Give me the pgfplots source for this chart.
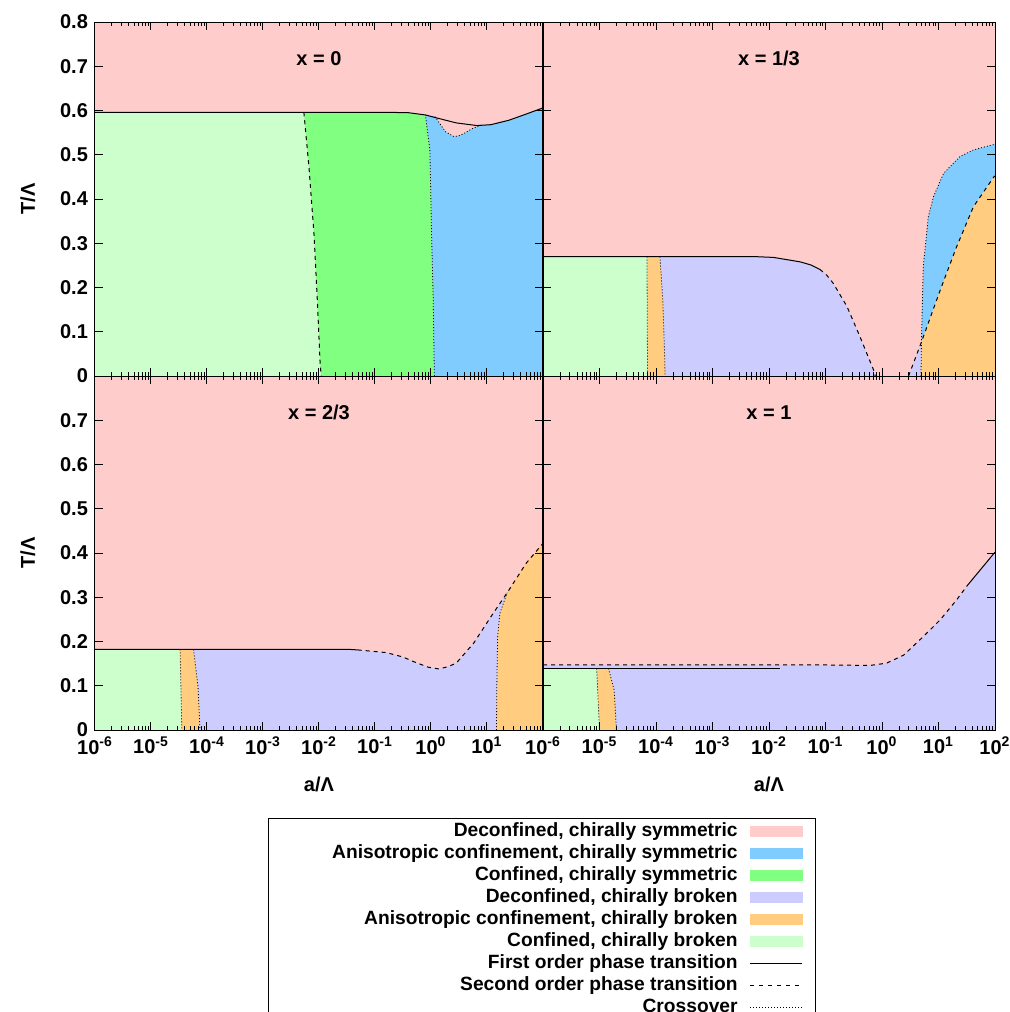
\documentclass[border=0pt]{standalone}
\usepackage{fontspec}
\setmainfont{Liberation Sans}
\usepackage{pgfplots}
\pgfplotsset{compat=1.18}

\definecolor{dcs}{RGB}{255,204,204}
\definecolor{acs}{RGB}{128,204,255}
\definecolor{ccs}{RGB}{128,255,128}
\definecolor{dcb}{RGB}{204,204,255}
\definecolor{acb}{RGB}{255,204,128}
\definecolor{ccb}{RGB}{204,255,204}

\pgfplotsset{
  mypanel/.style={
    scale only axis, width=224pt, height=177pt, anchor=south west,
    xmin=1e-6, xmax=1e2, ymin=0, ymax=0.8,
    xtick={1e-6,1e-5,1e-4,1e-3,1e-2,1e-1,1e0,1e1,1e2},
    minor xtick={2e-6,3e-6,4e-6,5e-6,6e-6,7e-6,8e-6,9e-6,
                 2e-5,3e-5,4e-5,5e-5,6e-5,7e-5,8e-5,9e-5,
                 2e-4,3e-4,4e-4,5e-4,6e-4,7e-4,8e-4,9e-4,
                 2e-3,3e-3,4e-3,5e-3,6e-3,7e-3,8e-3,9e-3,
                 2e-2,3e-2,4e-2,5e-2,6e-2,7e-2,8e-2,9e-2,
                 0.2,0.3,0.4,0.5,0.6,0.7,0.8,0.9,
                 2,3,4,5,6,7,8,9,20,30,40,50,60,70,80,90},
    ytick={0,0.1,0.2,0.3,0.4,0.5,0.6,0.7,0.8},
    xticklabels=\empty, yticklabels=\empty,
    tick align=inside, major tick length=4pt, minor tick length=2pt,
    every tick/.style={black, line width=0.5pt},
    axis line style={line width=0.5pt},
    axis on top,
    axis background/.style={fill=dcs},
    xlabel style={at={(axis description cs:0.5,-0.155)}, anchor=center},
    ylabel style={at={(axis description cs:-0.15,0.5)}, anchor=center},
    tick label style={font=\bfseries},
  },
  region/.style={draw=none, fill=#1},
  first/.style={black, line width=0.5pt},
  second/.style={black, line width=0.5pt, dash pattern=on 2pt off 2pt},
  cross/.style={black, line width=0.4pt, dash pattern=on 0.5pt off 1pt},
}

\begin{document}
\bfseries
\begin{tikzpicture}[font=\bfseries]

% x = 0
\begin{semilogxaxis}[mypanel, at={(47.5pt,-188pt)}, ylabel={T/Λ},
  yticklabels={0,0.1,0.2,0.3,0.4,0.5,0.6,0.7,0.8}]
\addplot[region=ccb] coordinates {(1e-6,0) (1e-6,0.596) (5.37e-3,0.596) (6.61e-3,0.473) (8.13e-3,0.322) (9.33e-3,0.172) (1.047e-2,0.029) (1.096e-2,0)} -- cycle;
\addplot[region=ccs] coordinates {(1.096e-2,0) (1.047e-2,0.029) (9.33e-3,0.172) (8.13e-3,0.322) (6.61e-3,0.473) (5.37e-3,0.596) (0.1585,0.596) (0.398,0.595) (0.794,0.590) (0.955,0.511) (1.023,0.322) (1.096,0.172) (1.148,0)} -- cycle;
\addplot[region=acs] coordinates {(1.148,0) (1.096,0.172) (1.023,0.322) (0.955,0.511) (0.794,0.590) (1.175,0.586) (1.445,0.570) (1.820,0.552) (2.570,0.541) (3.162,0.543) (3.981,0.549) (5.623,0.560) (7.762,0.567) (11.75,0.568) (24.55,0.578) (50.12,0.592) (100,0.606) (100,0)} -- cycle;
\addplot[first] coordinates {(1e-6,0.596) (0.1585,0.596) (0.398,0.595) (0.794,0.590) (1.380,0.582) (2.818,0.572) (6.607,0.566) (11.75,0.568) (24.55,0.578) (50.12,0.592) (100,0.606)};
\addplot[second] coordinates {(5.37e-3,0.596) (6.61e-3,0.473) (8.13e-3,0.322) (9.33e-3,0.172) (1.047e-2,0.029) (1.096e-2,0)};
\addplot[cross] coordinates {(1.148,0) (1.096,0.172) (1.023,0.322) (0.955,0.511) (0.794,0.590)};
\addplot[cross] coordinates {(1.175,0.586) (1.445,0.570) (1.820,0.552) (2.570,0.541) (3.162,0.543) (3.981,0.549) (5.623,0.560) (7.762,0.567)};
\node at (rel axis cs:0.5,0.897) {x = 0};
\end{semilogxaxis}

% x = 1/3
\begin{semilogxaxis}[mypanel, at={(271.5pt,-188pt)}, width=226pt]
\addplot[region=ccb] coordinates {(1e-6,0) (1e-6,0.270) (6.92e-5,0.270) (7.08e-5,0)} -- cycle;
\addplot[region=acb] coordinates {(7.08e-5,0) (6.92e-5,0.270) (1.175e-4,0.270) (1.318e-4,0.172) (1.413e-4,0.059) (1.445e-4,0)} -- cycle;
\addplot[region=dcb] coordinates {(1.445e-4,0) (1.413e-4,0.059) (1.318e-4,0.172) (1.175e-4,0.270) (5.25e-3,0.270) (1.202e-2,0.268) (3.548e-2,0.258) (5.5e-2,0.251) (7.94e-2,0.241) (0.105,0.228) (0.138,0.209) (0.240,0.157) (0.407,0.089) (0.708,0.014) (0.759,0)} -- cycle;
\addplot[region=dcb] coordinates {(2.951,0) (4.898,0.074) (4.898,0)} -- cycle;
\addplot[region=acs] coordinates {(4.898,0.074) (5.012,0.089) (5.370,0.247) (6.607,0.360) (8.128,0.405) (12.30,0.458) (23.99,0.496) (41.69,0.511) (100,0.524) (100,0.452) (95.5,0.450) (41.69,0.383) (20.89,0.292) (10.72,0.194)} -- cycle;
\addplot[region=acb] coordinates {(4.898,0) (4.898,0.074) (10.72,0.194) (20.89,0.292) (41.69,0.383) (95.5,0.450) (100,0.452) (100,0)} -- cycle;
\addplot[first] coordinates {(1e-6,0.270) (5.25e-3,0.270) (1.202e-2,0.268) (3.548e-2,0.258) (5.5e-2,0.251) (7.94e-2,0.241)};
\addplot[second] coordinates {(7.94e-2,0.241) (0.105,0.228) (0.138,0.209) (0.240,0.157) (0.407,0.089) (0.708,0.014) (0.759,0)};
\addplot[second] coordinates {(2.951,0) (4.898,0.074) (10.72,0.194) (20.89,0.292) (41.69,0.383) (95.5,0.450) (100,0.452)};
\addplot[cross] coordinates {(6.92e-5,0.270) (7.08e-5,0)};
\addplot[cross] coordinates {(1.175e-4,0.270) (1.318e-4,0.172) (1.413e-4,0.059) (1.445e-4,0)};
\addplot[cross] coordinates {(4.898,0) (5.012,0.089) (5.370,0.247) (6.607,0.360) (8.128,0.405) (12.30,0.458) (23.99,0.496) (41.69,0.511) (100,0.524)};
\node at (rel axis cs:0.5,0.897) {x = 1/3};
\end{semilogxaxis}

% x = 2/3
\begin{semilogxaxis}[mypanel, at={(47.5pt,-365pt)}, ylabel={T/Λ}, xlabel={a/Λ},
  yticklabels={0,0.1,0.2,0.3,0.4,0.5,0.6,0.7,{}},
  xticklabels={10\textsuperscript{-6},10\textsuperscript{-5},10\textsuperscript{-4},10\textsuperscript{-3},10\textsuperscript{-2},10\textsuperscript{-1},10\textsuperscript{0},10\textsuperscript{1},{}}]
\addplot[region=ccb] coordinates {(1e-6,0) (1e-6,0.182) (3.311e-5,0.182) (3.548e-5,0)} -- cycle;
\addplot[region=acb] coordinates {(3.548e-5,0) (3.311e-5,0.182) (5.754e-5,0.182) (6.918e-5,0.098) (7.50e-5,0)} -- cycle;
\addplot[region=dcb] coordinates {(7.50e-5,0) (6.918e-5,0.098) (5.754e-5,0.182) (3.72e-2,0.182) (4.90e-2,0.181) (0.1585,0.175) (0.316,0.165) (0.501,0.154) (0.891,0.142) (1.380,0.138) (1.995,0.143) (2.818,0.151) (5.754,0.196) (11.75,0.256) (22.91,0.310) (16.98,0.264) (15.49,0.211) (14.96,0.100) (14.79,0)} -- cycle;
\addplot[region=acb] coordinates {(14.79,0) (14.96,0.100) (15.49,0.211) (16.98,0.264) (22.91,0.310) (24.55,0.316) (50.12,0.377) (100,0.422) (100,0)} -- cycle;
\addplot[first] coordinates {(1e-6,0.182) (3.72e-2,0.182) (4.90e-2,0.181)};
\addplot[second] coordinates {(4.90e-2,0.181) (0.1585,0.175) (0.316,0.165) (0.501,0.154) (0.891,0.142) (1.380,0.138) (1.995,0.143) (2.818,0.151) (5.754,0.196) (11.75,0.256) (24.55,0.316) (50.12,0.377) (100,0.422)};
\addplot[cross] coordinates {(3.311e-5,0.182) (3.548e-5,0)};
\addplot[cross] coordinates {(5.754e-5,0.182) (6.918e-5,0.098) (7.50e-5,0)};
\addplot[cross] coordinates {(14.79,0) (14.96,0.100) (15.49,0.211) (16.98,0.264) (22.91,0.310)};
\node at (rel axis cs:0.5,0.897) {x = 2/3};
\end{semilogxaxis}

% x = 1
\begin{semilogxaxis}[mypanel, at={(271.5pt,-365pt)}, width=226pt, xlabel={a/Λ},
  xticklabels={10\textsuperscript{-6},10\textsuperscript{-5},10\textsuperscript{-4},10\textsuperscript{-3},10\textsuperscript{-2},10\textsuperscript{-1},10\textsuperscript{0},10\textsuperscript{1},10\textsuperscript{2}}]
\addplot[region=dcb] coordinates {(1e-6,0) (1e-6,0.147) (0.1,0.147) (0.617,0.146) (1.202,0.151) (2.399,0.169) (5.370,0.211) (10.72,0.249) (20.89,0.294) (31.62,0.325) (100,0.402) (100,0)} -- cycle;
\addplot[region=ccb] coordinates {(1e-6,0) (1e-6,0.139) (8.91e-6,0.139) (1e-5,0)} -- cycle;
\addplot[region=acb] coordinates {(1e-5,0) (8.91e-6,0.139) (1.445e-5,0.139) (1.820e-5,0.090) (1.995e-5,0)} -- cycle;
\addplot[second] coordinates {(1e-6,0.147) (0.1,0.147) (0.617,0.146) (1.202,0.151) (2.399,0.169) (5.370,0.211) (10.72,0.249) (20.89,0.294) (31.62,0.325)};
\addplot[first] coordinates {(31.62,0.325) (100,0.402)};
\addplot[first] coordinates {(1e-6,0.139) (1.549e-2,0.139)};
\addplot[cross] coordinates {(8.91e-6,0.139) (1e-5,0)};
\addplot[cross] coordinates {(1.445e-5,0.139) (1.820e-5,0.090) (1.995e-5,0)};
\node at (rel axis cs:0.5,0.897) {x = 1};
\end{semilogxaxis}

% legend box
\begin{axis}[at={(134pt,-409pt)}, anchor=north west, scale only axis,
  width=273.5pt, height=110pt, xmin=0, xmax=1, ymin=0, ymax=1,
  xtick=\empty, ytick=\empty, axis line style={line width=0.5pt},
  legend cell align=right, legend plot pos=right,
  legend style={at={(1,1)}, anchor=north east, xshift=-6pt, yshift=-1pt,
    draw=none, fill=none, inner sep=0pt, row sep=0pt, column sep=6pt,
    nodes={inner sep=0pt, text height=8pt, text depth=3pt,
      font=\bfseries\fontsize{9.6}{11}\selectfont}}]
\addlegendimage{legend image code/.code={\fill[dcs] (0pt,-2.5pt) rectangle (26pt,2.5pt);}}
\addlegendentry{Deconfined, chirally symmetric}
\addlegendimage{legend image code/.code={\fill[acs] (0pt,-2.5pt) rectangle (26pt,2.5pt);}}
\addlegendentry{Anisotropic confinement, chirally symmetric}
\addlegendimage{legend image code/.code={\fill[ccs] (0pt,-2.5pt) rectangle (26pt,2.5pt);}}
\addlegendentry{Confined, chirally symmetric}
\addlegendimage{legend image code/.code={\fill[dcb] (0pt,-2.5pt) rectangle (26pt,2.5pt);}}
\addlegendentry{Deconfined, chirally broken}
\addlegendimage{legend image code/.code={\fill[acb] (0pt,-2.5pt) rectangle (26pt,2.5pt);}}
\addlegendentry{Anisotropic confinement, chirally broken}
\addlegendimage{legend image code/.code={\fill[ccb] (0pt,-2.5pt) rectangle (26pt,2.5pt);}}
\addlegendentry{Confined, chirally broken}
\addlegendimage{legend image code/.code={\draw[black, line width=0.5pt] (0pt,0pt) -- (26pt,0pt);}}
\addlegendentry{First order phase transition}
\addlegendimage{legend image code/.code={\draw[black, line width=0.5pt, dash pattern=on 2pt off 2.5pt] (0pt,0pt) -- (26pt,0pt);}}
\addlegendentry{Second order phase transition}
\addlegendimage{legend image code/.code={\draw[black, line width=0.4pt, dash pattern=on 0.5pt off 1pt] (0pt,0pt) -- (26pt,0pt);}}
\addlegendentry{Crossover}
\end{axis}

\pgfresetboundingbox
\useasboundingbox (0pt,0pt) rectangle (504.5pt,-506pt);
\end{tikzpicture}
\end{document}
